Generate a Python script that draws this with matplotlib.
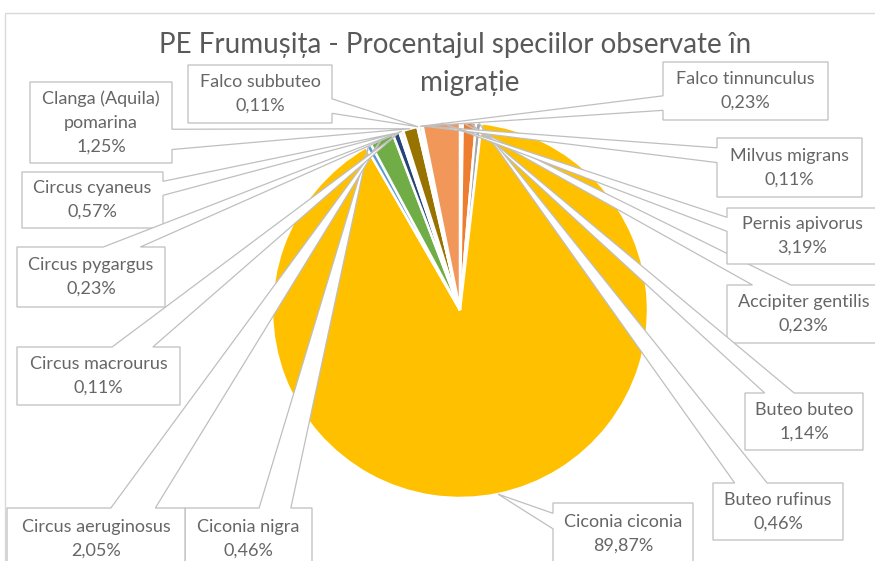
import matplotlib.pyplot as plt
from matplotlib.patches import Polygon, Rectangle
import numpy as np

# Excel series order (alphabetical), pie starts at 12 o'clock going clockwise
species = ['Accipiter gentilis', 'Buteo buteo', 'Buteo rufinus', 'Ciconia ciconia',
           'Ciconia nigra', 'Circus aeruginosus', 'Circus cyaneus', 'Circus macrourus',
           'Circus pygargus', 'Clanga (Aquila)\npomarina', 'Falco subbuteo',
           'Falco tinnunculus', 'Milvus migrans', 'Pernis apivorus']
percent = [0.23, 1.14, 0.46, 89.87, 0.46, 2.05, 0.57, 0.11, 0.23, 1.25, 0.11, 0.23, 0.11, 3.19]
colours = ['#4472C4', '#ED7D31', '#A5A5A5', '#FFC000', '#5B9BD5', '#70AD47', '#264478',
           '#9E480E', '#636363', '#997300', '#255E91', '#43682B', '#698ED0', '#F1975A']
title1 = 'PE Frumușița - Procentajul speciilor observate în'
title2 = 'migrație'

# callout boxes in pixels: left, top, width, height
boxes = [(727, 285, 153, 58), (745, 393, 118, 57), (713, 483, 130, 57), (553, 503, 140, 62),
         (185, 508, 127, 62), (7, 508, 178, 62), (22, 172, 141, 56), (17, 347, 163, 58),
         (17, 247, 148, 60), (30, 82, 142, 81), (188, 65, 144, 58),
         (663, 62, 165, 58), (717, 138, 145, 59), (727, 208, 150, 56)]

TXT = '#666666'
EDGE = '#bfbfbf'
FONT = 'Lato'


def callout(ax, box, tip, z):
    # rectangle callout with a wedge pointer, like Excel's data callout shape
    x0, y0, w, h = box
    x1, y1 = x0 + w, y0 + h
    dx = tip[0] - (x0 + w / 2)
    dy = tip[1] - (y0 + h / 2)
    if abs(dy) > abs(dx) * h / w:
        a, b = (7, 10) if dx > 0 else (2, 5)
        xa, xb = x0 + w * a / 12, x0 + w * b / 12
        if dy < 0:
            pts = [(x0, y0), (xa, y0), tip, (xb, y0), (x1, y0), (x1, y1), (x0, y1)]
        else:
            pts = [(x0, y0), (x1, y0), (x1, y1), (xb, y1), tip, (xa, y1), (x0, y1)]
    else:
        a, b = (7, 10) if dy > 0 else (2, 5)
        ya, yb = y0 + h * a / 12, y0 + h * b / 12
        if dx < 0:
            pts = [(x0, y0), (x1, y0), (x1, y1), (x0, y1), (x0, yb), tip, (x0, ya)]
        else:
            pts = [(x0, y0), (x1, y0), (x1, ya), tip, (x1, yb), (x1, y1), (x0, y1)]
    ax.add_patch(Polygon(pts, closed=True, facecolor='white', edgecolor=EDGE,
                         lw=0.9, joinstyle='miter', zorder=z))


fig = plt.figure(figsize=(8.75, 5.61), dpi=100)
ax = fig.add_axes([0, 0, 1, 1])

wedges, _ = ax.pie(percent, colors=colours, startangle=-90, counterclock=True,
                   center=(460, 310), radius=188, frame=True,
                   wedgeprops=dict(edgecolor='white', linewidth=1.8))
ax.set_xlim(0, 875)
ax.set_ylim(561, 0)
ax.axis('off')

# chart area border
ax.add_patch(Rectangle((5, 13), 900, 600, fill=False, edgecolor='#d9d9d9', lw=1.0, zorder=1))

for i, (w, name, val, box) in enumerate(zip(wedges, species, percent, boxes)):
    tm = np.deg2rad((w.theta1 + w.theta2) / 2)
    tip = (w.center[0] + w.r * np.cos(tm), w.center[1] + w.r * np.sin(tm))
    callout(ax, box, tip, 5 + 2 * i)
    lab = name + '\n' + ('%.2f' % val).replace('.', ',') + '%'
    ax.text(box[0] + box[2] / 2, box[1] + box[3] / 2, lab, ha='center', va='center',
            fontsize=13, color=TXT, family=FONT, linespacing=1.6, zorder=6 + 2 * i)

ax.text(455, 45, title1, ha='center', va='center', fontsize=20, color='#595959', family=FONT)
ax.text(470, 83, title2, ha='center', va='center', fontsize=20, color='#595959', family=FONT)

fig.savefig('out.png', dpi=100)
